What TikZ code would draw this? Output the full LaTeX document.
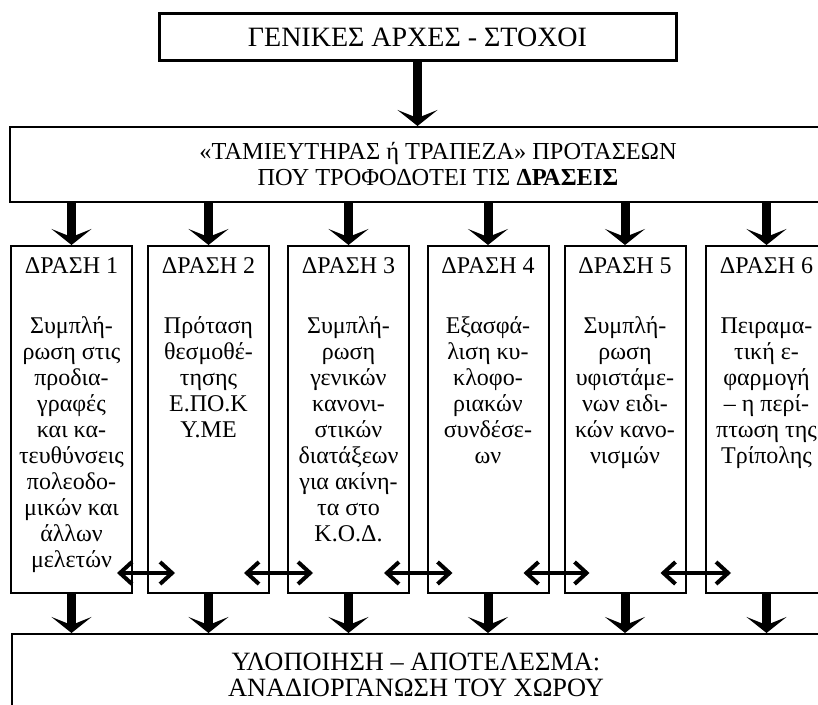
\documentclass[tikz,border=0pt]{standalone}
\usepackage{fontspec}
\setmainfont{Liberation Serif}
\usetikzlibrary{arrows.meta}

\tikzset{
  box/.style={draw, line width=1pt, align=center, inner sep=0pt, font=\fontsize{13.2}{13}\selectfont},
  col/.style={draw, line width=1pt, minimum width=60.5pt, minimum height=173.5pt, inner sep=0pt},
  coltext/.style={anchor=north, align=center, inner sep=0pt, yshift=-6pt, font=\fontsize{12}{13}\selectfont},
  down/.style={line width=4.5pt, -{Stealth[length=8pt,width=20pt,inset=4pt]}},
  both/.style={line width=2pt, {Straight Barb[length=6pt,width=11pt]}-{Straight Barb[length=6pt,width=11pt]}}
}

\begin{document}
\begin{tikzpicture}[x=0.5pt, y=-0.5pt]
    \useasboundingbox (0,0) rectangle (818,705);
    \clip (0,0) rectangle (818,705);

    % top and store of proposals
    \node [box, line width=1.5pt, minimum width=258.5pt, minimum height=23.5pt, font=\fontsize{14}{13}\selectfont] (top) at (417.5,37.5) {ΓΕΝΙΚΕΣ ΑΡΧΕΣ - ΣΤΟΧΟΙ};
    \node [box, minimum width=428pt, minimum height=37.5pt, font=\fontsize{12.2}{13}\selectfont] (tam) at (438,164.5) {«ΤΑΜΙΕΥΤΗΡΑΣ ή ΤΡΑΠΕΖΑ» ΠΡΟΤΑΣΕΩΝ\\ΠΟΥ ΤΡΟΦΟΔΟΤΕΙ ΤΙΣ \textbf{ΔΡΑΣΕΙΣ}};
    \draw [down] (top.south) -- (top.south |- tam.north);

    % the six actions
    \node [col] (d1) at (71.5,419.5) {};
    \node [col] (d2) at (208.5,419.5) {};
    \node [col] (d3) at (348.5,419.5) {};
    \node [col] (d4) at (488,419.5) {};
    \node [col] (d5) at (625,419.5) {};
    \node [col] (d6) at (766.5,419.5) {};

    \node [coltext] (t1) at (d1.north) {ΔΡΑΣΗ 1\\[17pt]Συμπλή-\\ρωση στις\\προδια-\\γραφές\\και κα-\\τευθύνσεις\\πολεοδο-\\μικών και\\άλλων\\μελετών};
    \node [coltext] (t2) at (d2.north) {ΔΡΑΣΗ 2\\[17pt]Πρόταση\\θεσμοθέ-\\τησης\\Ε.ΠΟ.Κ\\Υ.ΜΕ};
    \node [coltext] (t3) at (d3.north) {ΔΡΑΣΗ 3\\[17pt]Συμπλή-\\ρωση\\γενικών\\κανονι-\\στικών\\διατάξεων\\για ακίνη-\\τα στο\\Κ.Ο.Δ.};
    \node [coltext] (t4) at (d4.north) {ΔΡΑΣΗ 4\\[17pt]Εξασφά-\\λιση κυ-\\κλοφο-\\ριακών\\συνδέσε-\\ων};
    \node [coltext] (t5) at (d5.north) {ΔΡΑΣΗ 5\\[17pt]Συμπλή-\\ρωση\\υφιστάμε-\\νων ειδι-\\κών κανο-\\νισμών};
    \node [coltext] (t6) at (d6.north) {ΔΡΑΣΗ 6\\[17pt]Πειραμα-\\τική ε-\\φαρμογή\\– η περί-\\πτωση της\\Τρίπολης};

    % result
    \node [box, minimum width=404pt, minimum height=41pt] (goal) at (416,675) {ΥΛΟΠΟΙΗΣΗ – ΑΠΟΤΕΛΕΣΜΑ:\\ΑΝΑΔΙΟΡΓΑΝΩΣΗ ΤΟΥ ΧΩΡΟΥ};

    \foreach \d in {d1,d2,d3,d4,d5,d6} {
        \draw [down] (\d |- tam.south) -- (\d.north);
        \draw [down] (\d.south) -- (\d.south |- goal.north);
    }

    % links between neighbours
    \draw [both] ([xshift=-8pt,yshift=10.5pt]d1.south east) -- ([xshift=14pt,yshift=10.5pt]d2.south west);
    \draw [both] ([xshift=-13pt,yshift=10.5pt]d2.south east) -- ([xshift=13pt,yshift=10.5pt]d3.south west);
    \draw [both] ([xshift=-13pt,yshift=10.5pt]d3.south east) -- ([xshift=13pt,yshift=10.5pt]d4.south west);
    \draw [both] ([xshift=-13pt,yshift=10.5pt]d4.south east) -- ([xshift=13pt,yshift=10.5pt]d5.south west);
    \draw [both] ([xshift=-13pt,yshift=10.5pt]d5.south east) -- ([xshift=13pt,yshift=10.5pt]d6.south west);
\end{tikzpicture}
\end{document}
